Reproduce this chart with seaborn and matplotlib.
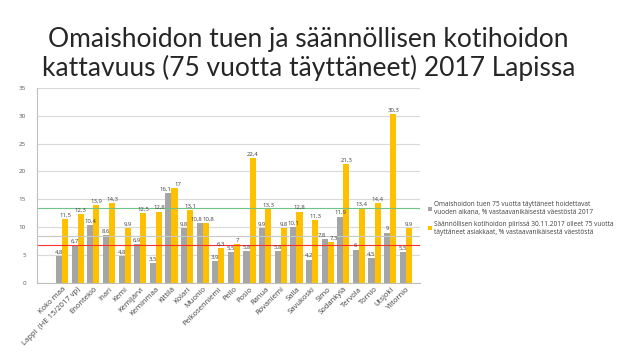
import matplotlib
matplotlib.use("Agg")
import matplotlib.pyplot as plt
import seaborn as sns
import pandas as pd

categories = ["Koko maa", "Lappi  (HE 15/2017 vp)", "Enontekiö", "Inari", "Kemi", "Kemijärvi",
              "Keminmaa", "Kittilä", "Kolari", "Muonio", "Pelkosenniemi", "Pello", "Posio",
              "Ranua", "Rovaniemi", "Salla", "Savukoski", "Simo", "Sodankylä", "Tervola",
              "Tornio", "Utsjoki", "Ylitornio"]
omaishoito = [4.8, 6.7, 10.4, 8.6, 4.8, 6.9, 3.5, 16.1, 9.8, 10.8, 3.9, 5.5, 5.8, 9.9, 5.8,
              10.1, 4.2, 7.8, 11.9, 6, 4.5, 9, 5.5]
kotihoito = [11.5, 12.3, 13.9, 14.3, 9.9, 12.5, 12.8, 17, 13.1, 10.8, 6.3, 7, 22.4, 13.3, 9.8,
             12.8, 11.3, 7.3, 21.3, 13.4, 14.4, 30.3, 9.9]
series_names = ["Omaishoidon tuen 75 vuotta täyttäneet hoidettavat\nvuoden aikana, % vastaavanikäisestä väestöstä 2017",
                "Säännöllisen kotihoidon piirissä 30.11.2017 olleet 75 vuotta\ntäyttäneet asiakkaat, % vastaavanikäisestä väestöstä"]
ref_lines = [13.5, 8.5, 6.8]
ref_colors = ["#70C48A", "#C8C8C8", "#FF3030"]
title = "Omaishoidon tuen ja säännöllisen kotihoidon\nkattavuus (75 vuotta täyttäneet) 2017 Lapissa"

df = pd.DataFrame({
    "kunta": categories * 2,
    "arvo": omaishoito + kotihoito,
    "sarja": [series_names[0]] * len(categories) + [series_names[1]] * len(categories),
})

sns.set_theme(style="white")
plt.rcParams['font.family'] = ['Open Sans', 'DejaVu Sans']

fig = plt.figure(figsize=(6.4, 3.6), dpi=100)
ax = fig.add_axes([0.058, 0.214, 0.598, 0.542])

sns.barplot(data=df, x="kunta", y="arvo", hue="sarja", ax=ax,
            palette=["#A5A5A5", "#FFC000"], width=0.78, gap=0.0, saturation=1,
            linewidth=0)

ax.set_ylim(0, 35)
ax.set_yticks(range(0, 36, 5))
ax.yaxis.grid(True, color="#D9D9D9", linewidth=0.8)
ax.set_axisbelow(True)
ax.set_xlabel("")
ax.set_ylabel("")
ax.tick_params(axis="y", labelsize=4.5, colors="#595959", length=0, pad=8)
ax.tick_params(axis="x", labelsize=5.5, colors="#404040", length=0, pad=2)
plt.setp(ax.get_xticklabels(), rotation=45, ha="right", rotation_mode="anchor")
for s in ["top", "right"]:
    ax.spines[s].set_visible(False)
for s in ["left", "bottom"]:
    ax.spines[s].set_color("#BFBFBF")
    ax.spines[s].set_linewidth(0.8)
ax.set_xlim(-1.6, len(categories) - 0.1)

for v, c in zip(ref_lines, ref_colors):
    ax.axhline(v, color=c, linewidth=0.8, zorder=1.5)

all_labels = []
for cont in ax.containers:
    labels = [f"{v:g}".replace(".", ",") for v in cont.datavalues]
    all_labels.append(ax.bar_label(cont, labels=labels, fontsize=4.3, color="#404040", padding=1))

# nudge labels apart where both values are nearly equal
for i, (a, b) in enumerate(zip(omaishoito, kotihoito)):
    if abs(a - b) < 1.2:
        all_labels[0][i].xyann = (-2.2, 1)
        all_labels[1][i].xyann = (2.2, 1)

leg = ax.legend(loc="upper left", bbox_to_anchor=(1.005, 0.45), frameon=False,
                fontsize=4.7, handlelength=0.6, handleheight=0.6, handletextpad=0.4,
                labelspacing=0.7, labelcolor="#404040")

fig.text(0.482, 0.925, title, ha="center", va="top", fontsize=19, color="#262626",
         fontweight="normal", linespacing=1.15, family=["Lato", "DejaVu Sans"])

fig.savefig("out.png", dpi=100)
